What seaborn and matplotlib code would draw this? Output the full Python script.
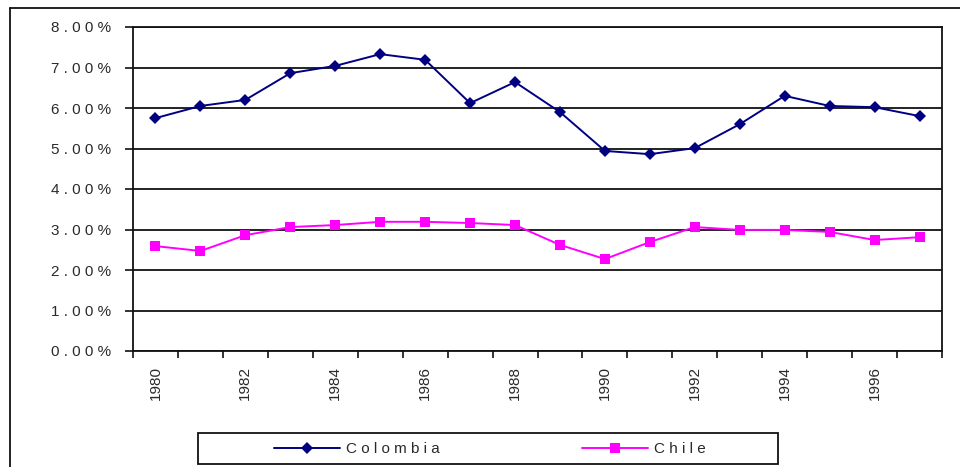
import numpy as np
import pandas as pd
import matplotlib
matplotlib.use("Agg")
import matplotlib.pyplot as plt
from matplotlib.lines import Line2D
from matplotlib.patches import Rectangle
from matplotlib.ticker import FixedLocator, FuncFormatter
import seaborn as sns

# --- data ---
years = list(range(1980, 1998))
colombia = [5.75, 6.05, 6.20, 6.86, 7.04, 7.33, 7.19, 6.12, 6.64, 5.90,
            4.94, 4.86, 5.01, 5.60, 6.30, 6.05, 6.02, 5.80]
chile = [2.59, 2.47, 2.86, 3.06, 3.11, 3.19, 3.19, 3.16, 3.11, 2.62,
         2.27, 2.69, 3.06, 2.99, 2.99, 2.94, 2.74, 2.81]
y_ticks = [0, 1, 2, 3, 4, 5, 6, 7, 8]

df = pd.DataFrame({"pos": np.arange(len(years)), "year": years,
                   "Colombia": colombia, "Chile": chile})

sns.set_style("white")
plt.rcParams['font.family'] = ['Liberation Sans', 'DejaVu Sans']
text_col = "#2a2a2a"
fs = 11

fig = plt.figure(figsize=(9.6, 4.67), dpi=100)
W, H = 960, 467
ax = fig.add_axes([133 / W, 1 - 351 / H, (942 - 133) / W, (351 - 27) / H])

sns.lineplot(data=df, x="pos", y="Colombia", ax=ax, color="#000080",
             marker="D", markersize=6, markeredgewidth=0, linewidth=1.4,
             label="Colombia")
sns.lineplot(data=df, x="pos", y="Chile", ax=ax, color="#FF00FF",
             marker="s", markersize=7, markeredgewidth=0, linewidth=1.4,
             label="Chile")

ax.set_xlim(-0.5, len(years) - 0.5)
ax.set_ylim(0, 8)
ax.set_xlabel("")
ax.set_ylabel("")

# horizontal grid
for v in y_ticks:
    ax.axhline(v, color="#111111", linewidth=1.3, zorder=0)

ax.set_yticks(y_ticks)
ax.yaxis.set_major_formatter(FuncFormatter(lambda v, p: " ".join(f"{v:.2f}%")))
ax.tick_params(axis="y", direction="out", length=6, width=1.2, color="#111111",
               labelsize=fs, labelcolor=text_col, pad=10, left=True)

# category ticks at the boundaries, labels at the centres of even years
ax.xaxis.set_major_locator(FixedLocator(np.arange(-0.5, len(years), 1.0)))
ax.xaxis.set_major_formatter(FuncFormatter(lambda v, p: ""))
label_pos = [i for i, y in enumerate(years) if y % 2 == 0]
ax.xaxis.set_minor_locator(FixedLocator(label_pos))
ax.xaxis.set_minor_formatter(FuncFormatter(lambda v, p: str(years[int(round(v))])))
ax.tick_params(axis="x", which="major", direction="out", length=5, width=1.2,
               color="#111111", bottom=True)
ax.tick_params(axis="x", which="minor", length=0, labelsize=fs,
               labelcolor=text_col, pad=11, labelrotation=90)

for s in ax.spines.values():
    s.set_visible(True)
    s.set_color("#111111")
    s.set_linewidth(1.3)

# legend
ax.get_legend().remove()
handles, labels = ax.get_legend_handles_labels()
labels = [" ".join(l) for l in labels]
leg = fig.legend(handles, labels, loc="center", ncol=2, frameon=False,
                 bbox_to_anchor=(490 / W, 1 - 449 / H), fontsize=fs,
                 handlelength=4.3, handletextpad=0.4, columnspacing=9.3,
                 labelcolor=text_col)
fig.patches.append(Rectangle((198 / W, 1 - 464 / H), (778 - 198) / W, 31 / H,
                             transform=fig.transFigure, fill=False,
                             edgecolor="#111111", linewidth=1.3))

# outer frame of the chart object
fig.lines.append(Line2D([10 / W, 10 / W], [0, 1 - 8 / H], transform=fig.transFigure,
                        color="#111111", linewidth=1.3))
fig.lines.append(Line2D([10 / W, 1], [1 - 8 / H, 1 - 8 / H], transform=fig.transFigure,
                        color="#111111", linewidth=1.3))

fig.savefig("out.png", dpi=100)
